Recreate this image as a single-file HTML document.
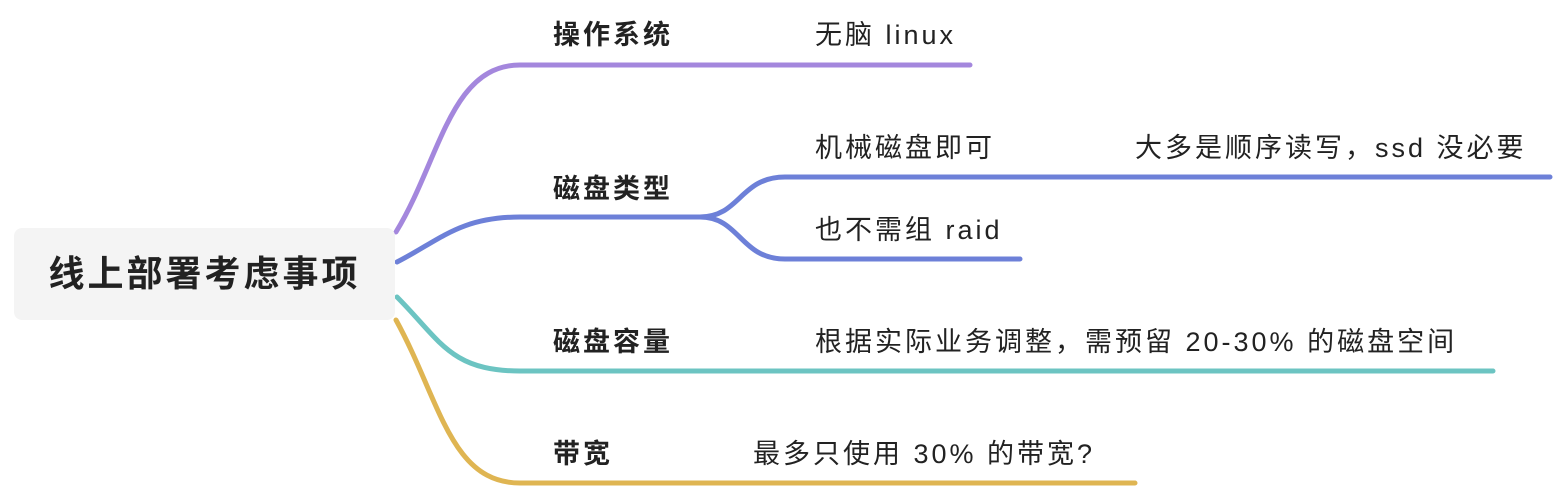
<!DOCTYPE html>
<html><head><meta charset="utf-8"><style>
body{margin:0;width:1562px;height:488px;background:#fff;position:relative;overflow:hidden;font-family:"Liberation Sans","Noto Sans CJK SC",sans-serif;color:#222}
.t{position:absolute;font-size:27px;line-height:30px;white-space:nowrap;letter-spacing:3px}
.b{font-weight:bold}
.root{position:absolute;left:14px;top:228px;width:381px;height:92px;background:#f4f4f4;border-radius:8px;font-size:36px;font-weight:bold;line-height:92px;text-align:center;letter-spacing:3px}
</style></head><body>
<svg width="1562" height="488" style="position:absolute;left:0;top:0" fill="none" stroke-width="5" stroke-linecap="round">
<path d="M396 232 C440 160,450 65,520 65 L970 65" stroke="#a487dd"/>
<path d="M397 262 C440 240,460 217,520 217 L700 217 C740 217,740 177,785 177 L1550 177" stroke="#6d80d8"/>
<path d="M700 217 C740 217,740 259,785 259 L1020 259" stroke="#6d80d8"/>
<path d="M397 297 C440 340,450 371,520 371 L1493 371" stroke="#6cc4c2"/>
<path d="M396 320 C440 400,450 483,520 483 L1135 483" stroke="#dfb552"/>
</svg>
<div class="root">线上部署考虑事项</div>
<div class="t b" style="left:553px;top:20px">操作系统</div>
<div class="t" style="left:815px;top:20px">无脑 linux</div>
<div class="t b" style="left:553px;top:174px">磁盘类型</div>
<div class="t" style="left:815px;top:133px">机械磁盘即可</div>
<div class="t" style="left:1135px;top:133px">大多是顺序读写，ssd 没必要</div>
<div class="t" style="left:815px;top:215px">也不需组 raid</div>
<div class="t b" style="left:553px;top:327px">磁盘容量</div>
<div class="t" style="left:815px;top:327px">根据实际业务调整，需预留 20-30% 的磁盘空间</div>
<div class="t b" style="left:553px;top:439px">带宽</div>
<div class="t" style="left:753px;top:439px">最多只使用 30% 的带宽?</div>
</body></html>
